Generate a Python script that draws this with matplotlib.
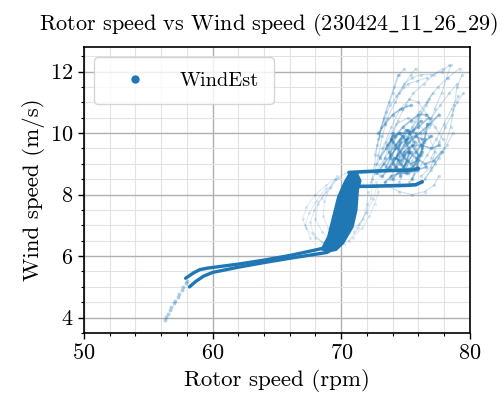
import matplotlib
matplotlib.use("Agg")
import matplotlib.pyplot as plt
from matplotlib.ticker import MultipleLocator
from matplotlib.lines import Line2D

plt.rcParams["font.family"] = "serif"
plt.rcParams["font.serif"] = ["cmr10"]
plt.rcParams["mathtext.fontset"] = "cm"
plt.rcParams["axes.formatter.use_mathtext"] = True

BLUE = "#1f77b4"

# sparse start-up tail (rpm, m/s)
tail_rpm = [56.3, 56.4, 56.5, 56.7, 56.8, 57.0, 57.1, 57.3, 57.4, 57.6, 57.7, 57.9, 58.0]
tail_wind = [3.93, 4.02, 4.12, 4.25, 4.33, 4.48, 4.55, 4.68, 4.78, 4.9, 5.0, 5.12, 5.2]

# dense tracks along the partial-load region
upper_rpm = [57.9, 58.5, 59.0, 59.6, 62.0, 64.0, 66.0, 68.0, 68.7, 69.1]
upper_wind = [5.28, 5.45, 5.56, 5.61, 5.74, 5.87, 6.02, 6.2, 6.27, 6.38]
lower_rpm = [58.2, 58.7, 59.3, 60.0, 62.0, 64.0, 66.0, 68.0, 68.9, 69.5]
lower_wind = [5.0, 5.18, 5.35, 5.47, 5.64, 5.79, 5.93, 6.06, 6.12, 6.28]

# dense near-rated band outline
band_rpm = [68.47, 68.98, 69.37, 69.76, 70.28, 70.7, 71.2, 71.5, 71.3, 71.19, 70.9, 70.15, 69.6, 69.0]
band_wind = [6.22, 6.63, 7.28, 7.93, 8.42, 8.72, 8.72, 8.45, 8.15, 7.5, 6.96, 6.42, 6.2, 6.15]

# two tracks leaving the band at rated speed
rated_hi_rpm = [70.6, 71.5, 72.5, 73.5, 74.5, 75.5, 76.0]
rated_hi_wind = [8.72, 8.74, 8.76, 8.78, 8.79, 8.8, 8.85]
rated_lo_rpm = [71.1, 72.0, 73.0, 74.0, 75.0, 75.8, 76.3]
rated_lo_wind = [8.27, 8.27, 8.28, 8.29, 8.3, 8.32, 8.42]

# faint loops around the band
loops_rpm = [
    [68.8, 68.0, 67.3, 67.0, 67.3, 68.0, 68.8, 69.5],
    [69.2, 68.5, 68.0, 68.2, 68.8, 69.6, 70.3],
    [70.2, 70.9, 71.6, 72.2, 72.6, 72.9, 72.7],
    [70.6, 71.3, 71.9, 72.3, 72.4],
    [67.6, 67.2, 67.5, 68.1, 68.8],
    [71.0, 71.7, 72.0, 72.1],
    [63.0, 64.5, 66.0, 67.0, 68.0],
    [68.5, 67.8, 67.6, 67.9, 68.5, 69.2, 69.8],
    [70.0, 70.6, 71.4, 72.0, 72.5, 72.8],
    [69.6, 69.0, 68.6, 68.7, 69.1, 69.7],
]
loops_wind = [
    [6.4, 6.6, 6.9, 7.2, 7.6, 8.0, 8.3, 8.5],
    [6.5, 6.8, 7.2, 7.7, 8.1, 8.5, 8.7],
    [6.4, 6.6, 6.9, 7.3, 7.7, 8.1, 8.4],
    [6.5, 6.9, 7.4, 7.9, 8.3],
    [6.6, 7.0, 7.4, 7.8, 8.2],
    [6.8, 7.2, 7.7, 8.1],
    [5.8, 5.88, 5.95, 6.02, 6.1],
    [6.45, 6.75, 7.1, 7.5, 7.9, 8.25, 8.55],
    [6.55, 6.75, 7.05, 7.45, 7.85, 8.3],
    [6.6, 6.9, 7.3, 7.8, 8.2, 8.6],
]

# above-rated cloud, outer strands
cloud_rpm = [
    [72.6, 72.9, 73.2, 73.6, 74.2, 74.8, 75.4, 75.8],
    [73.0, 73.4, 73.9, 74.4, 75.0, 75.6, 76.4, 77.2, 77.9],
    [73.8, 74.3, 74.9, 75.5, 76.1, 76.8, 77.5, 78.3, 79.2],
    [74.5, 75.1, 75.7, 76.4, 77.0, 77.7, 78.4, 79.0],
    [75.3, 76.0, 76.7, 77.4, 78.0, 78.6, 79.1],
    [76.3, 77.0, 77.6, 78.2, 78.7],
    [72.4, 72.6, 72.8, 73.1, 73.5, 74.0, 74.5, 74.9],
    [72.8, 73.5, 74.3, 75.2, 76.0, 76.8, 77.3, 77.0, 76.2],
    [73.2, 73.9, 74.6, 75.3, 76.0, 76.7, 77.3, 77.9],
    [75.5, 76.2, 76.8, 77.3, 77.8, 78.2, 78.5],
    [72.9, 73.3, 73.8, 74.5, 75.2, 75.9, 76.7],
    [74.3, 74.9, 75.5, 76.2, 77.0, 77.8, 78.4],
    [76.5, 77.3, 78.0, 78.5, 78.8, 79.0, 79.4],
    [73.5, 74.5, 75.5, 76.5, 77.2, 77.6],
    [72.3, 72.8, 73.4, 74.0, 74.6, 75.1, 75.6],
    [74.8, 75.4, 76.0, 76.6, 77.1, 76.7, 76.0, 75.3],
    [72.6, 73.0, 73.3, 73.7, 74.1, 74.4],
    [77.0, 77.6, 78.1, 78.6, 79.0, 79.5],
]
cloud_wind = [
    [8.7, 9.3, 9.9, 10.5, 11.0, 11.5, 11.9, 12.1],
    [8.6, 9.2, 9.8, 10.4, 10.9, 11.3, 11.6, 11.9, 12.1],
    [8.5, 9.0, 9.6, 10.2, 10.7, 11.1, 11.5, 11.8, 12.1],
    [8.4, 8.9, 9.5, 10.0, 10.5, 10.9, 11.3, 11.6],
    [8.4, 8.8, 9.3, 9.8, 10.3, 10.8, 11.2],
    [8.4, 8.8, 9.2, 9.6, 10.0],
    [8.5, 9.0, 9.6, 10.2, 10.7, 11.3, 11.9, 12.1],
    [9.0, 9.7, 10.3, 10.5, 10.3, 9.9, 9.4, 8.9, 8.6],
    [9.5, 10.2, 10.8, 11.1, 11.0, 10.6, 10.2, 9.8],
    [9.1, 9.6, 10.2, 10.8, 11.3, 11.8, 12.2],
    [9.8, 10.4, 10.9, 11.3, 11.6, 11.7, 11.8],
    [11.2, 11.6, 11.8, 11.9, 11.9, 12.0, 12.2],
    [8.5, 9.0, 9.5, 10.2, 10.9, 11.5, 11.9],
    [8.3, 8.1, 8.0, 8.1, 8.3, 8.6],
    [8.4, 8.8, 9.2, 9.5, 9.8, 9.9, 9.7],
    [9.3, 9.8, 10.4, 10.9, 11.3, 11.0, 10.5, 10.0],
    [9.3, 9.9, 10.5, 11.0, 11.5, 11.9],
    [9.2, 9.7, 10.2, 10.6, 11.0, 11.3],
]

# above-rated cloud, dense core strands
core_rpm = [
    [72.8, 73.3, 73.9, 74.5, 75.1, 75.7, 76.3],
    [73.2, 73.8, 74.4, 75.0, 75.6, 76.2],
    [74.0, 74.6, 75.2, 75.8, 76.4, 77.0],
    [73.6, 74.2, 74.8, 75.4, 76.0, 76.6],
    [74.6, 75.0, 75.4, 75.0, 74.5, 74.0, 73.8],
    [75.5, 75.9, 76.2, 76.5, 76.7],
    [73.0, 73.5, 74.0, 74.6, 75.3, 76.0, 76.8],
    [72.9, 73.4, 74.0, 74.7, 75.4],
    [74.3, 74.9, 75.6, 76.3, 77.0, 77.6],
    [73.4, 73.9, 74.5, 75.2, 75.9, 76.6],
    [73.5, 74.2, 75.0, 75.8, 76.3, 75.8, 75.0, 74.2, 73.7, 74.0],
    [74.2, 74.8, 75.3, 74.9, 74.3, 74.6, 75.2, 75.7],
    [73.6, 74.1, 74.7, 75.2, 75.8, 76.5, 77.2, 77.8],
    [74.0, 74.6, 75.3, 76.1, 76.9, 77.6],
    [74.4, 74.9, 75.5, 76.0, 75.6, 75.0, 74.6],
    [73.9, 74.4, 74.9, 75.4, 75.9, 76.3],
]
core_wind = [
    [8.7, 9.0, 9.3, 9.6, 9.8, 9.9, 9.8],
    [8.6, 8.9, 9.3, 9.7, 10.1, 10.4],
    [8.5, 8.8, 9.1, 9.4, 9.7, 9.9],
    [9.6, 9.9, 10.2, 10.4, 10.6, 10.6],
    [8.6, 9.0, 9.4, 9.8, 10.0, 9.7, 9.2],
    [8.5, 8.9, 9.3, 9.8, 10.3],
    [9.2, 9.5, 9.9, 10.0, 10.0, 10.2, 10.5],
    [10.0, 10.3, 10.6, 10.8, 10.9],
    [8.9, 9.3, 9.6, 9.6, 9.5, 9.6],
    [8.4, 8.6, 8.7, 8.7, 8.8, 8.9],
    [8.9, 9.5, 10.1, 10.0, 9.5, 9.0, 8.7, 8.9, 9.4, 10.0],
    [9.6, 9.9, 9.4, 8.9, 9.2, 9.7, 10.1, 9.7],
    [8.8, 9.2, 9.1, 9.4, 9.2, 9.0, 9.1, 9.4],
    [9.0, 9.4, 9.7, 10.0, 10.3, 10.6],
    [9.1, 9.4, 9.6, 9.3, 8.9, 8.8, 9.0],
    [9.8, 9.5, 9.2, 9.0, 9.1, 9.4],
]

fig = plt.figure(figsize=(5.03, 4.0), dpi=100)
ax = fig.add_axes([0.167, 0.1675, 0.767, 0.715])

for r, w in zip(cloud_rpm, cloud_wind):
    ax.plot(r, w, "-o", color=BLUE, lw=0.8, ms=2.4, alpha=0.22, mew=0)
for r, w in zip(core_rpm, core_wind):
    ax.plot(r, w, "-o", color=BLUE, lw=1.3, ms=2.6, alpha=0.4, mew=0)
for r, w in zip(loops_rpm, loops_wind):
    ax.plot(r, w, "-o", color=BLUE, lw=0.8, ms=2.2, alpha=0.14, mew=0)

ax.fill(band_rpm, band_wind, color=BLUE, lw=1.5, ec=BLUE)
ax.plot(upper_rpm, upper_wind, color=BLUE, lw=2.4, solid_capstyle="round")
ax.plot(lower_rpm, lower_wind, color=BLUE, lw=2.4, solid_capstyle="round")
ax.plot(rated_hi_rpm, rated_hi_wind, color=BLUE, lw=2.6, solid_capstyle="round")
ax.plot(rated_lo_rpm, rated_lo_wind, color=BLUE, lw=2.6, solid_capstyle="round")
ax.scatter(tail_rpm, tail_wind, s=8, color=BLUE, alpha=0.35, lw=0)

ax.set_xlim(50, 80)
ax.set_ylim(3.5, 12.8)
ax.xaxis.set_major_locator(MultipleLocator(10))
ax.xaxis.set_minor_locator(MultipleLocator(2))
ax.yaxis.set_major_locator(MultipleLocator(2))
ax.yaxis.set_minor_locator(MultipleLocator(0.5))
ax.grid(which="major", color="#b0b0b0", lw=1.0)
ax.grid(which="minor", color="#e2e2e2", lw=0.8)
ax.set_axisbelow(True)
ax.tick_params(which="major", labelsize=16, length=4, width=1)
ax.tick_params(which="minor", length=2.5, width=0.8)
for s in ax.spines.values():
    s.set_linewidth(1.2)

ax.set_xlabel("Rotor speed (rpm)", fontsize=16.5)
ax.set_ylabel("Wind speed (m/s)", fontsize=16.5)
ax.set_title(r"Rotor speed vs Wind speed (230424$\_$11$\_$26$\_$29)",
             fontsize=16, pad=12, x=0.478)

handle = Line2D([], [], ls="none", marker="o", ms=5, color=BLUE)
ax.legend([handle], ["WindEst"], loc="upper left", fontsize=14.7,
          handlelength=2.6, handletextpad=0.9, borderpad=0.7, framealpha=0.8)

fig.savefig("out.png", dpi=100)
